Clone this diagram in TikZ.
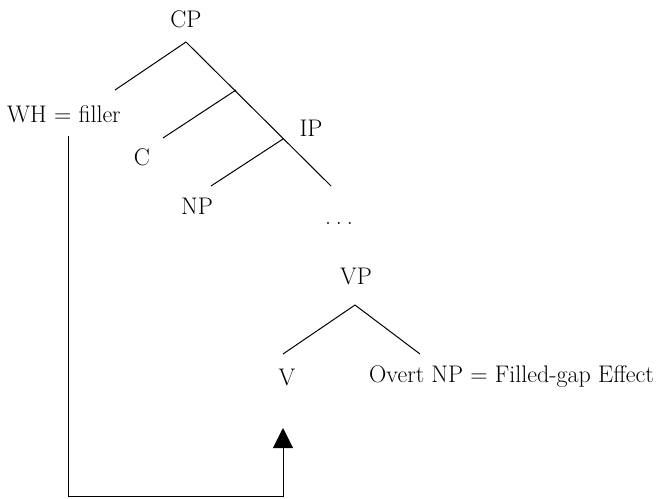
\documentclass[tikz,border=0pt]{standalone}
\usepackage{fontspec}
\usetikzlibrary{arrows.meta}
\begin{document}
\begin{tikzpicture}[x=1pt,y=-1pt,
  lab/.style={inner sep=0pt,font=\fontsize{24}{28}\selectfont},
  branch/.style={line width=1pt},
  link/.style={line width=1pt,-{Triangle[width=20pt,length=20pt]}}]
\useasboundingbox (0,0) rectangle (660,498);
% labels
\node[lab] (cp) at (186,19) {CP};
\node[lab,anchor=west] (wh) at (7,114) {WH = filler};
\node[lab] (c) at (142,157) {C};
\node[lab] (ip) at (311,128) {IP};
\node[lab] (np) at (197,206) {NP};
\node[lab] (dots) at (339,224) {.\hspace{5pt}.\hspace{5pt}.};
\node[lab] (vp) at (356,276) {VP};
\node[lab] (v) at (287,377) {V};
\node[lab,anchor=west] (onp) at (369,377) {Overt NP = Filled-gap Effect};
% tree junctions
\coordinate (cptop) at (186,42);
\coordinate (whend) at (115,90);
\coordinate (cpend) at (331,186);
\coordinate (cbr) at (236,90);
\coordinate (cend) at (163,138);
\coordinate (ipbr) at (283,139);
\coordinate (npend) at (211,186);
\coordinate (vptop) at (355,305);
\coordinate (vend) at (283,354);
\coordinate (oend) at (420,354);
\draw[branch] (cptop) -- (whend);
\draw[branch] (cptop) -- (cpend);
\draw[branch] (cbr) -- (cend);
\draw[branch] (ipbr) -- (npend);
\draw[branch] (vptop) -- (vend);
\draw[branch] (vptop) -- (oend);
% filler-gap link
\coordinate (lstart) at (68,136);
\coordinate (ltip) at (283,428);
\draw[link] (lstart) |- (ltip |- 0,496) -- (ltip);
\end{tikzpicture}
\end{document}
